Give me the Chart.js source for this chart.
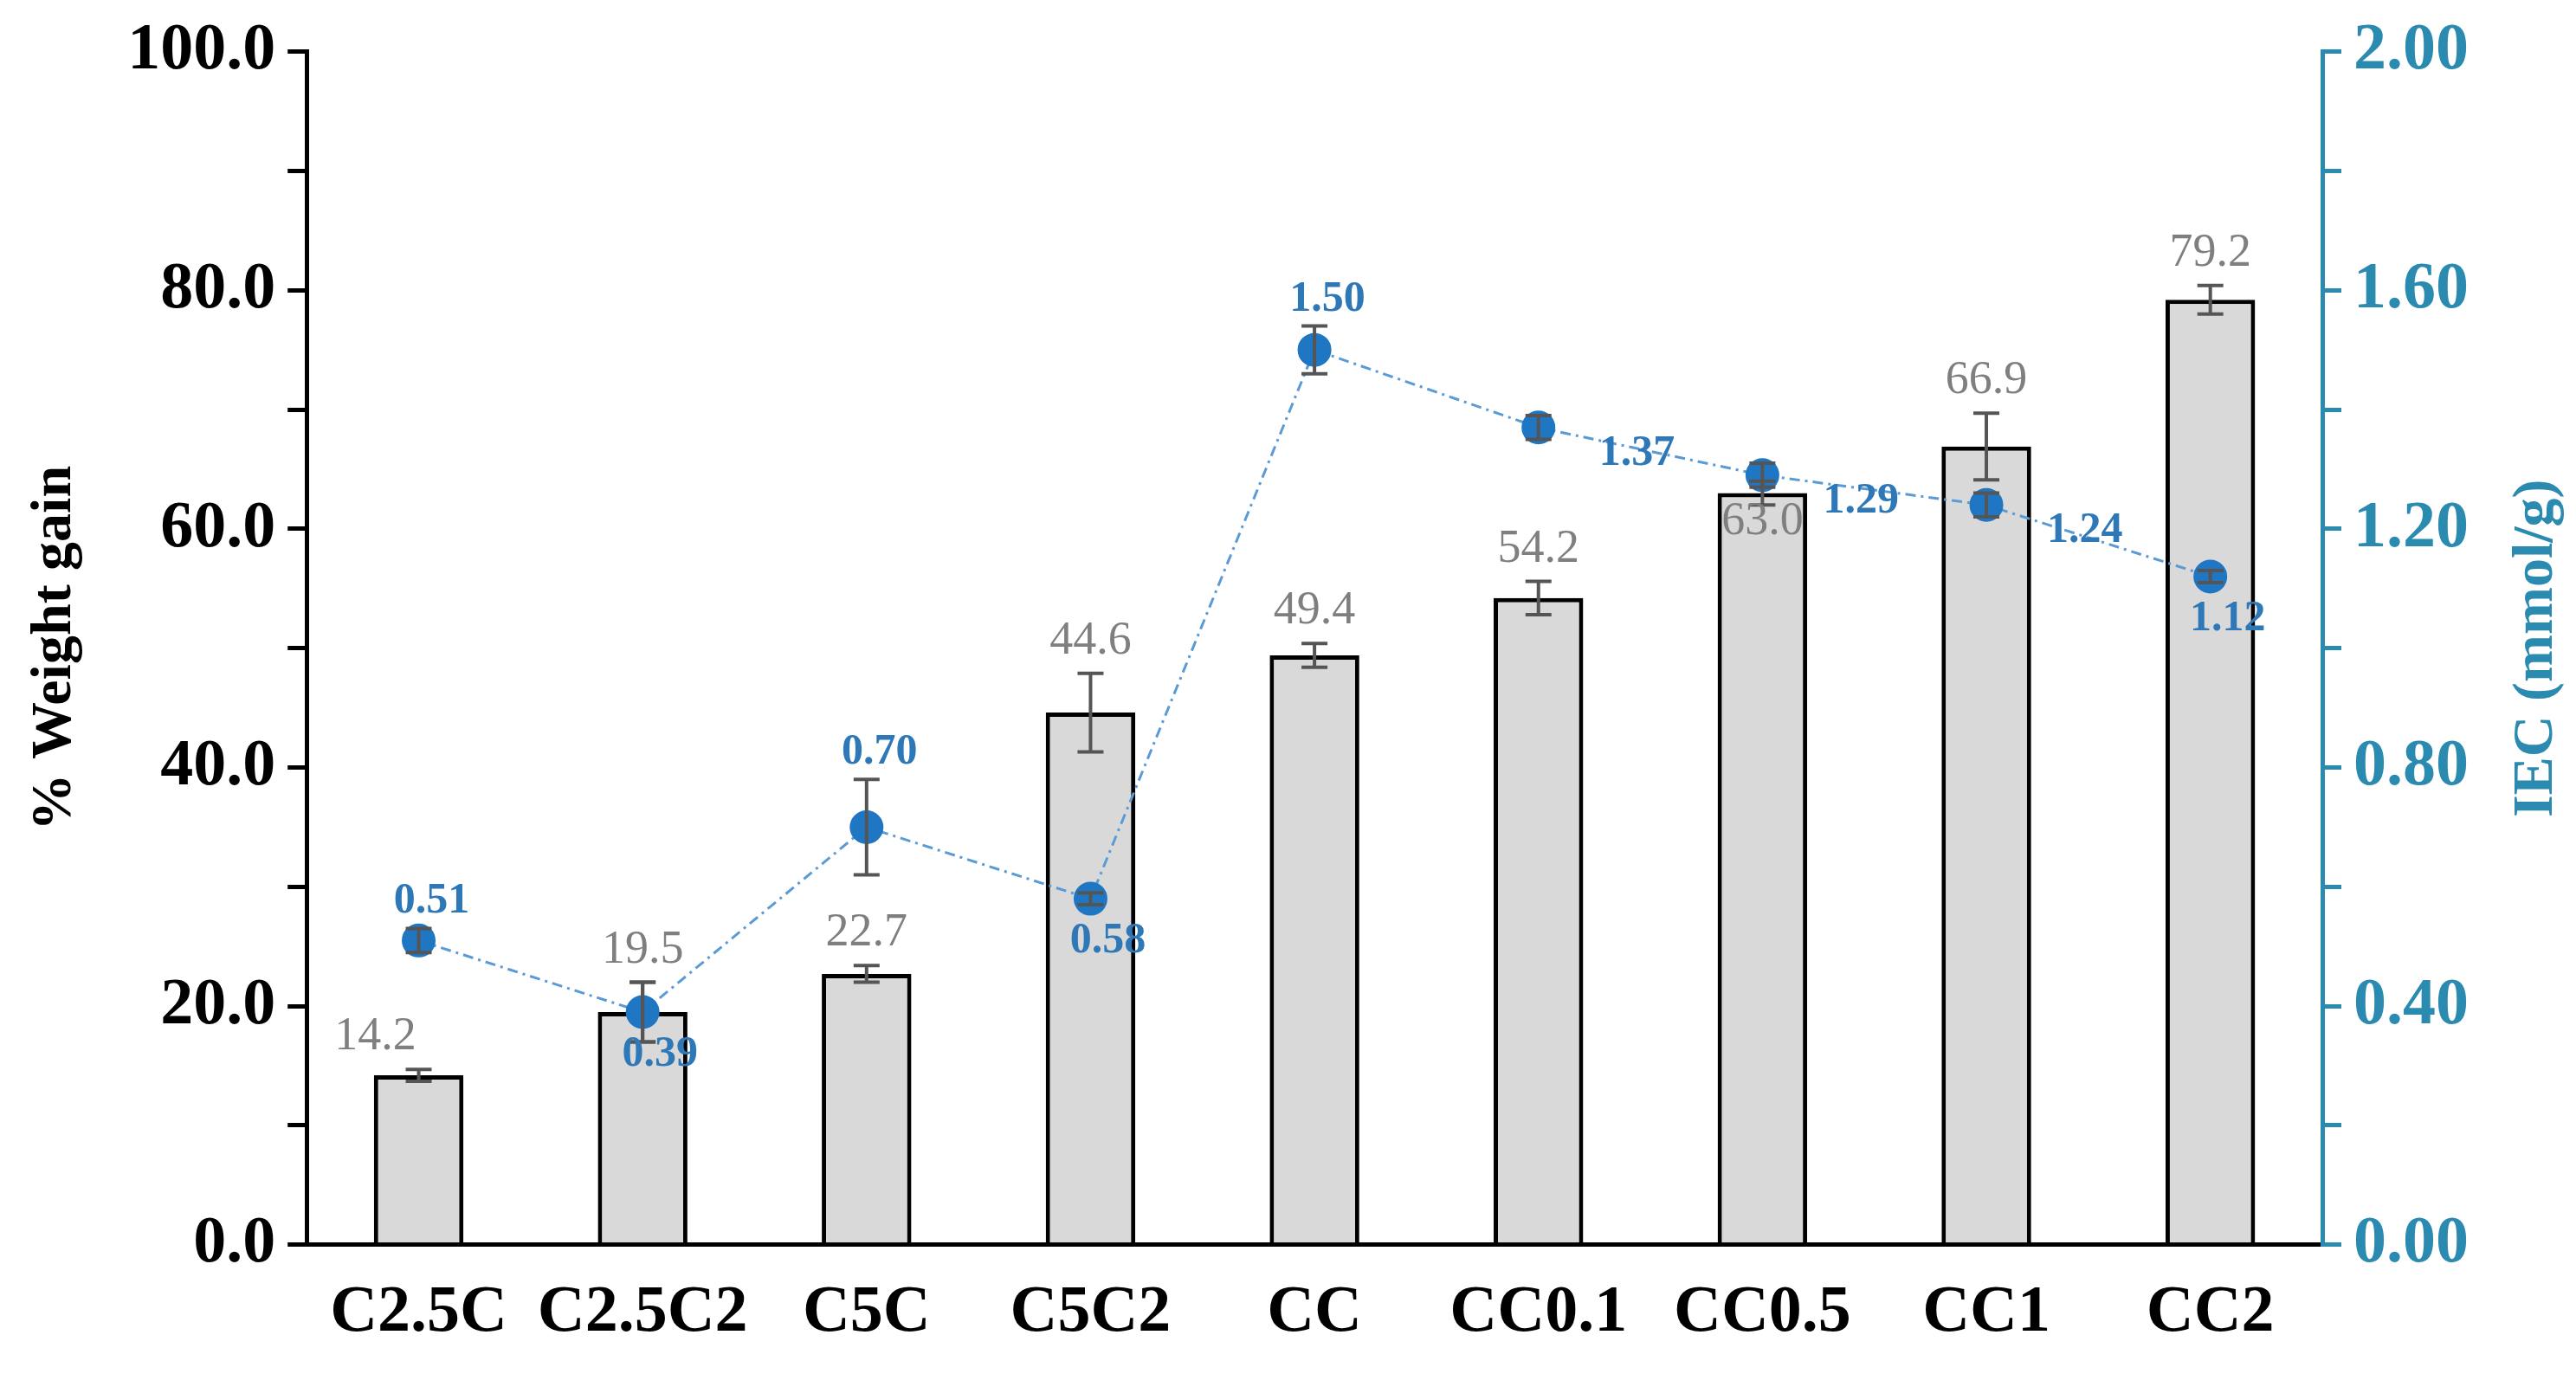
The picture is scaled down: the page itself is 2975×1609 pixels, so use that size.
<!DOCTYPE html>
<html><head><meta charset="utf-8">
<script src="https://cdn.jsdelivr.net/npm/chart.js@4"></script>
<style>html,body{margin:0;padding:0;background:#fff}</style>
</head><body>
<canvas id="c" width="2975" height="1609"></canvas>
<script>
const categories = ['C2.5C','C2.5C2','C5C','C5C2','CC','CC0.1','CC0.5','CC1','CC2'];
const weightGain = [14.2,19.5,22.7,44.6,49.4,54.2,63.0,66.9,79.2];
const weightErr = [0.5,2.5,0.7,3.3,1.0,1.4,1.0,2.8,1.2];
const iec = [0.51,0.39,0.70,0.58,1.50,1.37,1.29,1.24,1.12];
const iecErr = [0.02,0.05,0.08,0.01,0.04,0.02,0.02,0.02,0.01];
const iecLabelPos = ['above','below','above','below','above','right','right','right','below'];
const BLUE='#2f78b7', AX='#2b8ab0', SERIF='"Liberation Serif","DejaVu Serif",serif';

const errPlugin = {
  id:'err',
  afterDatasetsDraw(chart){
    const ctx=chart.ctx, y=chart.scales.y, y2=chart.scales.y2, x=chart.scales.x;
    ctx.save();
    ctx.strokeStyle='#555'; ctx.lineWidth=4;
    const bar=(cx,lo,hi,w)=>{ctx.beginPath();ctx.moveTo(cx,lo);ctx.lineTo(cx,hi);
      ctx.moveTo(cx-w,lo);ctx.lineTo(cx+w,lo);ctx.moveTo(cx-w,hi);ctx.lineTo(cx+w,hi);ctx.stroke();};
    categories.forEach((c,i)=>{
      const cx=x.getPixelForValue(i);
      bar(cx,y.getPixelForValue(weightGain[i]-weightErr[i]),y.getPixelForValue(weightGain[i]+weightErr[i]),15);
      bar(cx,y2.getPixelForValue(iec[i]-iecErr[i]),y2.getPixelForValue(iec[i]+iecErr[i]),15);
    });
    categories.forEach((c,i)=>{
      const cx=x.getPixelForValue(i);
      ctx.fillStyle='#7f7f7f'; ctx.font='54px '+SERIF; ctx.textAlign='center';
      if(i===6){ctx.textBaseline='top';ctx.fillText(weightGain[i].toFixed(1),cx,y.getPixelForValue(weightGain[i])+6);}
      else {ctx.textBaseline='bottom';ctx.fillText(weightGain[i].toFixed(1),cx-(i===0?50:0),y.getPixelForValue(weightGain[i]+weightErr[i])-10);}
      ctx.fillStyle=BLUE; ctx.font='bold 50px '+SERIF;
      const py=y2.getPixelForValue(iec[i]), t=iec[i].toFixed(2);
      if(iecLabelPos[i]==='above'){ctx.textAlign='center';ctx.textBaseline='bottom';ctx.fillText(t,cx+15,y2.getPixelForValue(iec[i]+iecErr[i])-6);}
      else if(iecLabelPos[i]==='below'){ctx.textAlign='center';ctx.textBaseline='top';ctx.fillText(t,cx+20,py+24);}
      else {ctx.textAlign='left';ctx.textBaseline='middle';ctx.fillText(t,cx+70,py+30);}
    });
    // right axis title, reading bottom-to-top
    const ca=chart.chartArea;
    ctx.translate(chart.width-45,(ca.top+ca.bottom)/2);
    ctx.rotate(-Math.PI/2);
    ctx.fillStyle=AX; ctx.font='bold 66px '+SERIF; ctx.textAlign='center'; ctx.textBaseline='middle';
    ctx.fillText('IEC (mmol/g)',0,0);
    ctx.restore();
  }
};

new Chart(document.getElementById('c'),{
  data:{labels:categories,datasets:[
    {type:'line',label:'IEC',data:iec,yAxisID:'y2',borderColor:'#5b9bd5',borderWidth:3,borderDash:[12,6,3,6],
     pointRadius:18,pointBackgroundColor:'#1f77c4',pointBorderColor:'#1f77c4',tension:0,order:0},
    {type:'bar',label:'WG',data:weightGain,yAxisID:'y',backgroundColor:'#d9d9d9',borderColor:'#000',borderWidth:5,
     barPercentage:0.4,categoryPercentage:1,order:1}
  ]},
  options:{responsive:false,devicePixelRatio:1,animation:false,
    layout:{padding:{left:20,right:110,top:45,bottom:20}},
    plugins:{legend:{display:false},tooltip:{enabled:false}},
    scales:{
      x:{grid:{display:false},border:{color:'#000',width:5},
        ticks:{color:'#000',font:{family:SERIF,size:76,weight:'bold'},padding:26}},
      y:{position:'left',min:0,max:100,
        ticks:{stepSize:10,color:'#000',font:{family:SERIF,size:76,weight:'bold'},padding:14,
          callback:v=>v%20===0?v.toFixed(1):''},
        grid:{drawOnChartArea:false,tickLength:22,color:'#000',lineWidth:5},border:{color:'#000',width:5},
        title:{display:true,text:'% Weight gain',color:'#000',font:{family:SERIF,size:66,weight:'bold'},padding:{bottom:30}}},
      y2:{position:'right',min:0,max:2,
        ticks:{stepSize:0.2,color:AX,font:{family:SERIF,size:76,weight:'bold'},padding:14,
          callback:v=>(Math.round(v*10)%4===0)?v.toFixed(2):''},
        grid:{drawOnChartArea:false,tickLength:22,color:AX,lineWidth:5},border:{color:AX,width:5}}
    }
  },
  plugins:[errPlugin]
});
</script></body></html>
